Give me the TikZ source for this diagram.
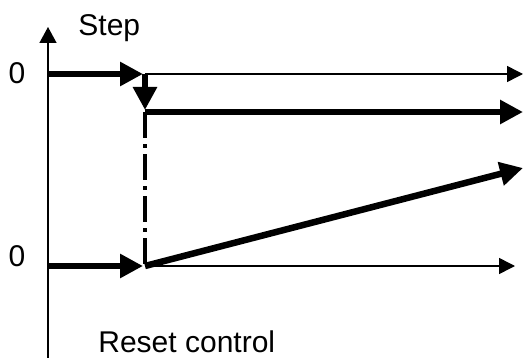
\documentclass[tikz,border=0pt]{standalone}
\usepackage{fontspec}
\setmainfont{Liberation Sans}
\usetikzlibrary{arrows.meta}

\begin{document}
\begin{tikzpicture}[x=0.5pt,y=-0.5pt,
  thickarrow/.style={line width=3.25pt,-{Triangle[length=11.5pt,width=11.5pt]}},
  thinarrow/.style={line width=0.75pt,-{Triangle[length=8pt,width=8pt]}},
  axisline/.style={line width=0.75pt,-{Triangle[length=8pt,width=8.5pt]}},
  resetline/.style={line width=2pt,dash pattern=on 13pt off 3pt on 2pt off 3pt},
  lbl/.style={font=\fontsize{15}{18}\selectfont,inner sep=0pt}]
\useasboundingbox (0,0) rectangle (524,358);
\coordinate (ax0) at (48,358);
\coordinate (ax1) at (48,27);
\coordinate (s0) at (48,74);
\coordinate (s1) at (145,74);
\coordinate (s2) at (523,74);
\coordinate (d0) at (145,112);
\coordinate (d1) at (523,112);
\coordinate (r0) at (48,266);
\coordinate (r1) at (145,266);
\coordinate (r2) at (515,266);
\coordinate (ramp) at (523,168);
\draw[axisline] (ax0) -- (ax1);
\node[lbl,anchor=base west] (step) at (78,36) {Step};
\node[lbl] (zerotop) at (17,73) {0};
\node[lbl] (zerobot) at (17,256) {0};
\node[lbl,anchor=base west] (reset) at (98,352) {Reset control};
\draw[thinarrow] (s1) -- (s2);
\draw[thickarrow] (s0) -- ([xshift=-1pt]s1);
\draw[thickarrow] (s1) -- ([yshift=1pt]d0);
\draw[thickarrow] (d0) -- (d1);
\draw[resetline] (d0) -- (r1);
\draw[thinarrow] (r1) -- (r2);
\draw[thickarrow] (r0) -- ([xshift=-1pt]r1);
\draw[thickarrow] (r1) -- (ramp);
\end{tikzpicture}
\end{document}
